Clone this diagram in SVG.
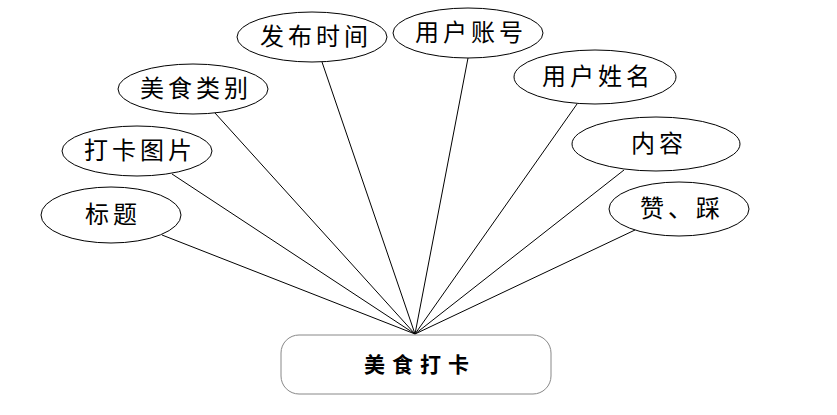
<svg xmlns="http://www.w3.org/2000/svg" width="837" height="415" viewBox="0 0 837 415">
<style>
.e{fill:#fff;stroke:#000;stroke-width:1}
.t{font-family:"Noto Sans CJK SC","Noto Sans",sans-serif;font-size:24px;letter-spacing:4px;text-anchor:middle;fill:#000}
.c line{stroke:#000;stroke-width:1}
</style>
<rect width="837" height="415" fill="#fff"/>
<g class="c" id="connectors">
<line x1="415" y1="334" x2="322" y2="62"/>
<line x1="415" y1="334" x2="215" y2="113"/>
<line x1="415" y1="334" x2="172" y2="174"/>
<line x1="415" y1="334" x2="162" y2="235"/>
<line x1="415" y1="334" x2="468" y2="58"/>
<line x1="415" y1="334" x2="577" y2="104"/>
<line x1="415" y1="334" x2="624" y2="170"/>
<line x1="415" y1="334" x2="635" y2="230"/>
</g>
<g id="n-fbsj"><ellipse class="e" cx="312" cy="37" rx="75" ry="25"/><text class="t" x="316" y="45">发布时间</text></g>
<g id="n-mslb"><ellipse class="e" cx="193" cy="89" rx="75" ry="25"/><text class="t" x="196" y="97">美食类别</text></g>
<g id="n-dktp"><ellipse class="e" cx="137" cy="151" rx="75" ry="25"/><text class="t" x="140" y="159">打卡图片</text></g>
<g id="n-bt"><ellipse class="e" cx="111" cy="215" rx="70" ry="28"/><text class="t" x="113" y="223">标题</text></g>
<g id="n-yhzh"><ellipse class="e" cx="468" cy="33" rx="75" ry="25"/><text class="t" x="471" y="41">用户账号</text></g>
<g id="n-yhxm"><ellipse class="e" cx="595" cy="77" rx="81" ry="27"/><text class="t" x="598" y="85">用户姓名</text></g>
<g id="n-nr"><ellipse class="e" cx="656" cy="144" rx="84" ry="27"/><text class="t" x="659" y="152">内容</text></g>
<g id="n-zc"><ellipse class="e" cx="679" cy="209" rx="70" ry="27"/><text class="t" x="682" y="217">赞、踩</text></g>
<g id="n-msdk"><rect x="281" y="335" width="270" height="59" rx="18" fill="#fff" stroke="#888" stroke-width="1"/><text x="420" y="372" style="font-family:'Noto Sans CJK SC','Noto Sans',sans-serif;font-size:21px;font-weight:bold;letter-spacing:7px;text-anchor:middle">美食打卡</text></g>
</svg>
